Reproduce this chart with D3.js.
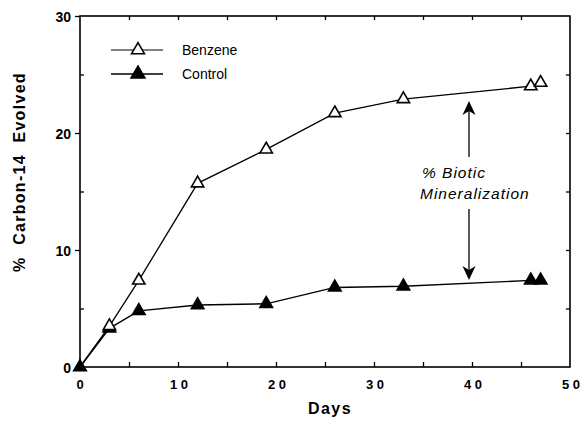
<!DOCTYPE html>
<html lang="en">
<head>
<meta charset="UTF-8">
<script src="https://d3js.org/d3.v7.min.js"></script>
<style>
  body { margin: 0; background: #fff; }
  text { font-family: "Liberation Sans", Arial, sans-serif; fill: #000; }
</style>
</head>
<body>
<figure style="margin:0"></figure>
<script>
// data
const days = [0, 3, 6, 12, 19, 26, 33, 46, 47];
const benzene = [0, 3.5, 7.4, 15.7, 18.6, 21.7, 22.9, 24.0, 24.3];
const control = [0, 3.3, 4.8, 5.3, 5.4, 6.8, 6.9, 7.4, 7.4];
const xTicks = [0, 10, 20, 30, 40, 50];
const yTicks = [0, 10, 20, 30];
const legendNames = ["Benzene", "Control"];

const w = 581, h = 422;
const plotLeft = 80, plotRight = 570, plotTop = 16, plotBottom = 367;

const xScale = d3.scaleLinear().domain([0, 50]).range([plotLeft, plotRight]);
const yScale = d3.scaleLinear().domain([0, 30]).range([plotBottom, plotTop]);

const svg = d3.select("figure").append("svg")
  .attr("width", w).attr("height", h);

// frame
svg.append("rect")
  .attr("x", plotLeft).attr("y", plotTop)
  .attr("width", plotRight - plotLeft).attr("height", plotBottom - plotTop)
  .attr("fill", "none").attr("stroke", "#000").attr("stroke-width", 1.6);

const minorX = d3.range(5, 50, 5);
const minorY = d3.range(5, 30, 5);

// inward ticks on bottom and top
const bottomAxis = svg.append("g").attr("transform", "translate(0," + plotBottom + ")")
  .call(d3.axisTop(xScale).tickValues(minorX).tickSize(5).tickFormat(""));
const topAxis = svg.append("g").attr("transform", "translate(0," + plotTop + ")")
  .call(d3.axisBottom(xScale).tickValues(minorX).tickSize(4).tickFormat(""));
// right axis ticks inward
const rightAxis = svg.append("g").attr("transform", "translate(" + plotRight + ",0)")
  .call(d3.axisLeft(yScale).tickValues(minorY).tickSize(4).tickFormat(""));
// left axis: majors outward, minors inward
const leftMinor = svg.append("g").attr("transform", "translate(" + plotLeft + ",0)")
  .call(d3.axisRight(yScale).tickValues([5, 15, 25]).tickSize(4).tickFormat(""));
const leftMajor = svg.append("g").attr("transform", "translate(" + plotLeft + ",0)")
  .call(d3.axisLeft(yScale).tickValues(yTicks).tickSize(5).tickPadding(4).tickFormat(d3.format("d")));

[bottomAxis, topAxis, rightAxis, leftMinor, leftMajor].forEach(g => {
  g.select(".domain").remove();
  g.selectAll("line").attr("stroke", "#000").attr("stroke-width", 1.3);
});
leftMajor.selectAll("text")
  .attr("fill", "#000")
  .style("font-family", "Liberation Sans, Arial, sans-serif")
  .style("font-size", "14px").style("font-weight", "bold")
  .attr("dy", "0.36em");

// x tick labels, digits spread apart like the original
const xLabels = svg.append("g").selectAll("text")
  .data(xTicks).enter().append("text")
  .attr("x", d => xScale(d) + (d === 0 ? 0 : 1))
  .attr("y", 389)
  .attr("text-anchor", "middle")
  .style("font-size", "13px").style("font-weight", "bold");
xLabels.selectAll("tspan")
  .data(d => String(d).split(""))
  .enter().append("tspan")
  .attr("dx", (c, i) => i === 0 ? 0 : 3.5)
  .text(c => c);

// axis titles
svg.append("text")
  .attr("x", 330).attr("y", 414)
  .attr("text-anchor", "middle")
  .style("font-size", "16px").style("font-weight", "bold")
  .style("letter-spacing", "1.5px")
  .text("Days");

svg.append("text")
  .attr("transform", "translate(25,172) rotate(-90)")
  .attr("text-anchor", "middle")
  .style("font-size", "16px").style("font-weight", "bold")
  .style("letter-spacing", "1.3px")
  .style("white-space", "pre")
  .text("%  Carbon-14  Evolved");

// lines
const line = d3.line().x(d => xScale(d[0])).y(d => yScale(d[1]));
const benzPts = days.map((d, i) => [d, benzene[i]]);
const ctrlPts = days.map((d, i) => [d, control[i]]);

svg.append("path").datum(benzPts).attr("d", line)
  .attr("fill", "none").attr("stroke", "#000").attr("stroke-width", 1.3);
svg.append("path").datum(ctrlPts).attr("d", line)
  .attr("fill", "none").attr("stroke", "#000").attr("stroke-width", 1.4);

const openTri = d3.symbol().type(d3.symbolTriangle).size(66);
const fullTri = d3.symbol().type(d3.symbolTriangle).size(102);

svg.append("g").selectAll("path")
  .data(ctrlPts).enter().append("path")
  .attr("d", fullTri)
  .attr("transform", d => "translate(" + xScale(d[0]) + "," + yScale(d[1]) + ")")
  .attr("fill", "#000");

svg.append("g").selectAll("path")
  .data(benzPts.slice(1)).enter().append("path")
  .attr("d", openTri)
  .attr("transform", d => "translate(" + xScale(d[0]) + "," + yScale(d[1]) + ")")
  .attr("fill", "#fff").attr("stroke", "#000").attr("stroke-width", 1.6);

// legend
const legendOpen = d3.symbol().type(d3.symbolTriangle).size(72);
const legendFull = d3.symbol().type(d3.symbolTriangle).size(120);
const legend = svg.append("g");
legendNames.forEach((name, i) => {
  const ly = 50 + i * 24;
  legend.append("line")
    .attr("x1", 111).attr("x2", 163).attr("y1", ly).attr("y2", ly)
    .attr("stroke", "#000").attr("stroke-width", i === 0 ? 1 : 1.4);
  legend.append("path")
    .attr("d", i === 0 ? legendOpen : legendFull)
    .attr("transform", "translate(138," + ly + ")")
    .attr("fill", i === 0 ? "#fff" : "#000")
    .attr("stroke", "#000").attr("stroke-width", i === 0 ? 1.6 : 0);
  legend.append("text")
    .attr("x", 182).attr("y", ly + 5)
    .style("font-size", "14px")
    .text(name);
});

// annotation with arrows
const ax = 469;
const arrowHead = (tipY, dir) => {
  // dir -1 points up, +1 points down
  const len = 14, half = 6.5, notch = 4;
  return "M" + ax + "," + tipY +
    "L" + (ax - half) + "," + (tipY - dir * len) +
    "L" + ax + "," + (tipY - dir * (len - notch)) +
    "L" + (ax + half) + "," + (tipY - dir * len) + "Z";
};

svg.append("line")
  .attr("x1", ax).attr("x2", ax).attr("y1", 157).attr("y2", 108)
  .attr("stroke", "#000").attr("stroke-width", 1.3);
svg.append("path").attr("d", arrowHead(101, -1)).attr("fill", "#000");

svg.append("line")
  .attr("x1", ax).attr("x2", ax).attr("y1", 209).attr("y2", 272)
  .attr("stroke", "#000").attr("stroke-width", 1.3);
svg.append("path").attr("d", arrowHead(280, 1)).attr("fill", "#000");

svg.append("text")
  .attr("x", 422).attr("y", 178)
  .style("font-size", "15.5px").style("font-style", "italic")
  .style("letter-spacing", "1px")
  .text("% Biotic");
svg.append("text")
  .attr("x", 420).attr("y", 199)
  .style("font-size", "15.5px").style("font-style", "italic")
  .style("letter-spacing", "1px")
  .text("Mineralization");
</script>
</body>
</html>
